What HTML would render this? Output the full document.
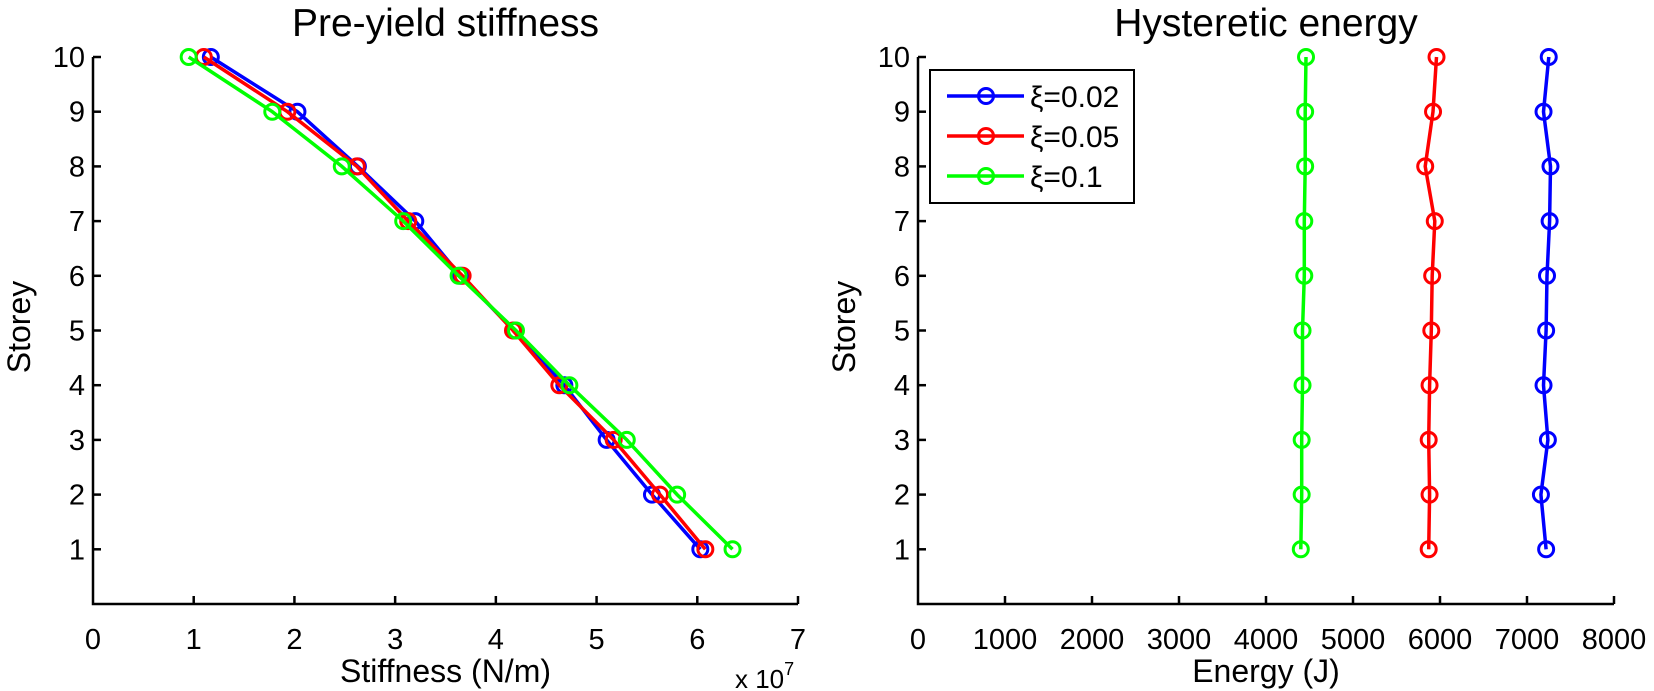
<!DOCTYPE html>
<html><head><meta charset="utf-8"><style>
html,body{margin:0;padding:0;background:#fff;}
svg{display:block;font-family:"Liberation Sans",Arial,sans-serif;}
</style></head><body>
<svg id="fig" width="1654" height="691" viewBox="0 0 1654 691" xmlns="http://www.w3.org/2000/svg"></svg>
<script>
const storeys = [1,2,3,4,5,6,7,8,9,10];
const stiffBlue  = [6.03,5.55,5.10,4.68,4.18,3.65,3.20,2.63,2.03,1.17];
const stiffRed   = [6.08,5.63,5.17,4.63,4.17,3.67,3.13,2.62,1.93,1.10];
const stiffGreen = [6.35,5.80,5.30,4.73,4.20,3.63,3.08,2.47,1.78,0.95];
const energyBlue  = [7220,7160,7240,7190,7220,7230,7260,7270,7190,7250];
const energyRed   = [5870,5880,5870,5880,5900,5910,5940,5830,5920,5960];
const energyGreen = [4400,4410,4410,4420,4420,4440,4440,4450,4450,4460];
const stiffTicks = [0,1,2,3,4,5,6,7];
const energyTicks = [0,1000,2000,3000,4000,5000,6000,7000,8000];
const yTicks = [1,2,3,4,5,6,7,8,9,10];
const seriesLabels = ["ξ=0.02","ξ=0.05","ξ=0.1"];
const colors = ["#0000ff","#ff0000","#00ff00"];

const NS="http://www.w3.org/2000/svg";
const svg=document.getElementById('fig');
function mk(tag,attrs,parent){const e=document.createElementNS(NS,tag);for(const k in attrs)e.setAttribute(k,attrs[k]);(parent||svg).appendChild(e);return e;}

function panel(name,x0,x1,xmin,xmax,xticks,title,xlabel,series){
  const yBot=604,yTop=57;
  const g=mk('g',{});
  
  
  const sx=v=>x0+(v-xmin)/(xmax-xmin)*(x1-x0);
  const sy=v=>yBot-(v/10)*(yBot-yTop);
  const t=mk('text',{x:(x0+x1)/2,y:36,'text-anchor':'middle','font-size':39,fill:'#000'},g);
  t.textContent=title;
  
  
  const ax=mk('path',{d:`M${x0},${yTop} L${x0},${yBot} L${x1},${yBot}`,stroke:'#000','stroke-width':2.5,fill:'none'},g);
  
  
  xticks.forEach(v=>{
    const x=sx(v);
    if(v!==xmin) mk('line',{x1:x,y1:yBot,x2:x,y2:yBot-8,stroke:'#000','stroke-width':2.5},g);
    const l=mk('text',{x:x,y:649,'text-anchor':'middle','font-size':29,fill:'#000'},g);
    l.textContent=v;
    
    
  });
  yTicks.forEach(v=>{
    const y=sy(v);
    mk('line',{x1:x0,y1:y,x2:x0+8,y2:y,stroke:'#000','stroke-width':2.5},g);
    const l=mk('text',{x:x0-8,y:y+10,'text-anchor':'end','font-size':29,fill:'#000'},g);
    l.textContent=v;
    
    
  });
  const xl=mk('text',{x:(x0+x1)/2,y:682,'text-anchor':'middle','font-size':32,fill:'#000'},g);
  xl.textContent=xlabel;
  
  
  const yl=mk('text',{x:0,y:0,'text-anchor':'middle','font-size':32,fill:'#000',transform:`translate(${x0-63},327) rotate(-90)`},g);
  yl.textContent='Storey';
  
  
  series.forEach((vals,i)=>{
    const pts=vals.map((v,j)=>sx(v).toFixed(1)+','+sy(storeys[j]).toFixed(1)).join(' ');
    const pl=mk('polyline',{points:pts,stroke:colors[i],'stroke-width':3.5,fill:'none'},g);
    
    
    vals.forEach((v,j)=>{
      const c=mk('circle',{cx:sx(v),cy:sy(storeys[j]),r:7.5,stroke:colors[i],'stroke-width':3,fill:'none'},g);
      
      
    });
  });
  return g;
}

panel('stiffness-panel',93,798,0,7,stiffTicks,'Pre-yield stiffness','Stiffness (N/m)',[stiffBlue,stiffRed,stiffGreen]);
panel('energy-panel',918,1614,0,8000,energyTicks,'Hysteretic energy','Energy (J)',[energyBlue,energyRed,energyGreen]);

const ex=mk('text',{x:735,y:688,'font-size':26,fill:'#000'});
ex.innerHTML='x 10<tspan dy="-13" font-size="18">7</tspan>';



const lg=mk('g',{});


mk('rect',{x:930,y:70,width:204,height:133,fill:'#fff',stroke:'#000','stroke-width':2},lg);
seriesLabels.forEach((s,i)=>{
  const y=96+i*40;
  const e=mk('g',{},lg);
  
  
  mk('line',{x1:947,y1:y,x2:1024,y2:y,stroke:colors[i],'stroke-width':3.5},e);
  mk('circle',{cx:986,cy:y,r:7.5,stroke:colors[i],'stroke-width':3,fill:'none'},e);
  const t=mk('text',{x:1030,y:y+11,'font-size':30,fill:'#000'},e);
  t.textContent=s;
});
</script>
</body></html>
